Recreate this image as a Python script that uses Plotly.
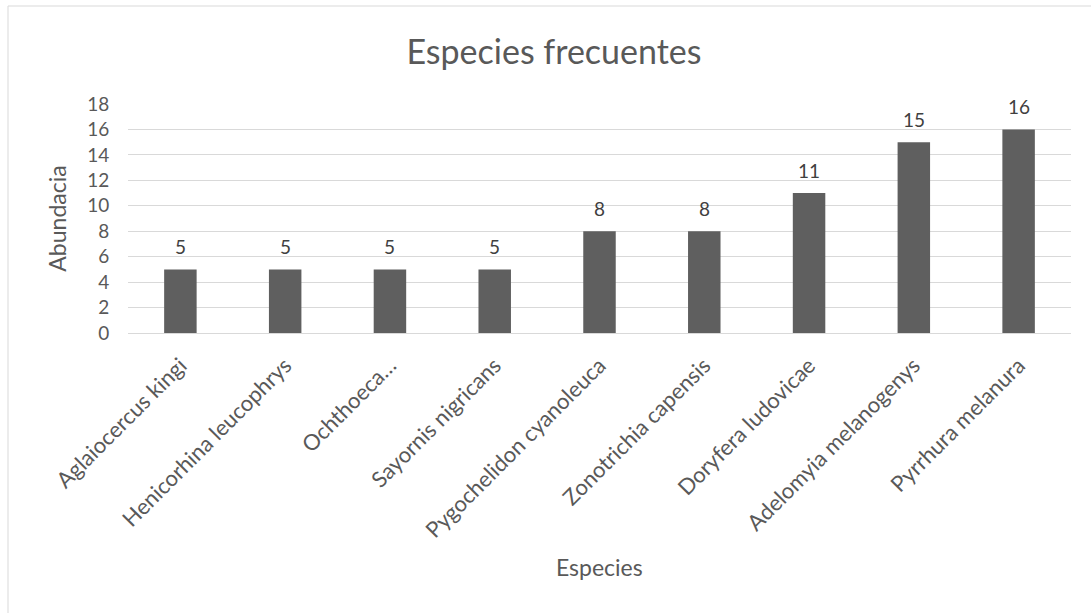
import plotly.graph_objects as go

species = [
    "Aglaiocercus kingi",
    "Henicorhina leucophrys",
    "Ochthoeca…",
    "Sayornis nigricans",
    "Pygochelidon cyanoleuca",
    "Zonotrichia capensis",
    "Doryfera ludovicae",
    "Adelomyia melanogenys",
    "Pyrrhura melanura",
]
abundance = [5, 5, 5, 5, 8, 8, 11, 15, 16]
y_ticks = [0, 2, 4, 6, 8, 10, 12, 14, 16, 18]

font_family = "Lato, Open Sans, sans-serif"
text_grey = "#595959"
grid_grey = "#d9d9d9"

fig = go.Figure(
    go.Bar(
        x=species,
        y=abundance,
        marker=dict(color="#5f5f5f", line=dict(width=0)),
        width=0.31,
        cliponaxis=False,
    )
)

# Value labels above each bar
for name, value in zip(species, abundance):
    fig.add_annotation(
        x=name,
        y=value,
        text=str(value),
        showarrow=False,
        yanchor="bottom",
        yshift=9,
        font=dict(size=19, color="#404040", family=font_family),
    )

# Horizontal axis title
fig.add_annotation(
    text="Especies",
    xref="paper",
    yref="paper",
    x=0.5,
    y=-1.02,
    xanchor="center",
    yanchor="middle",
    showarrow=False,
    font=dict(size=23, color=text_grey, family=font_family),
)

fig.update_layout(
    width=1091,
    height=613,
    margin=dict(l=128, r=20, t=104, b=280),
    paper_bgcolor="white",
    plot_bgcolor="white",
    showlegend=False,
    title=dict(
        text="Especies frecuentes",
        x=554 / 1091,
        xref="container",
        xanchor="center",
        y=1 - 52 / 613,
        yref="container",
        yanchor="middle",
        font=dict(size=34, color=text_grey, family=font_family),
    ),
    font=dict(family=font_family, color=text_grey),
)

fig.update_xaxes(
    tickangle=-45,
    tickfont=dict(size=22, color=text_grey),
    showgrid=False,
    showline=True,
    linecolor=grid_grey,
    linewidth=1,
    ticks="outside",
    ticklen=10,
    tickcolor="rgba(0,0,0,0)",
)

fig.update_yaxes(
    range=[0, 18],
    tickvals=y_ticks,
    tickfont=dict(size=19, color=text_grey),
    showgrid=True,
    gridcolor=grid_grey,
    gridwidth=1,
    zeroline=False,
    ticks="outside",
    ticklen=14,
    tickcolor="rgba(0,0,0,0)",
    title=dict(text="Abundacia", font=dict(size=23, color=text_grey), standoff=14),
)

# Thin frame around the chart area
fig.add_shape(
    type="rect",
    xref="paper",
    yref="paper",
    x0=-120 / 943,
    x1=1.2,
    y0=-1.5,
    y1=1 + 98 / 229,
    line=dict(color=grid_grey, width=1),
    fillcolor="rgba(0,0,0,0)",
    layer="below",
)

fig.write_html("out.html")
